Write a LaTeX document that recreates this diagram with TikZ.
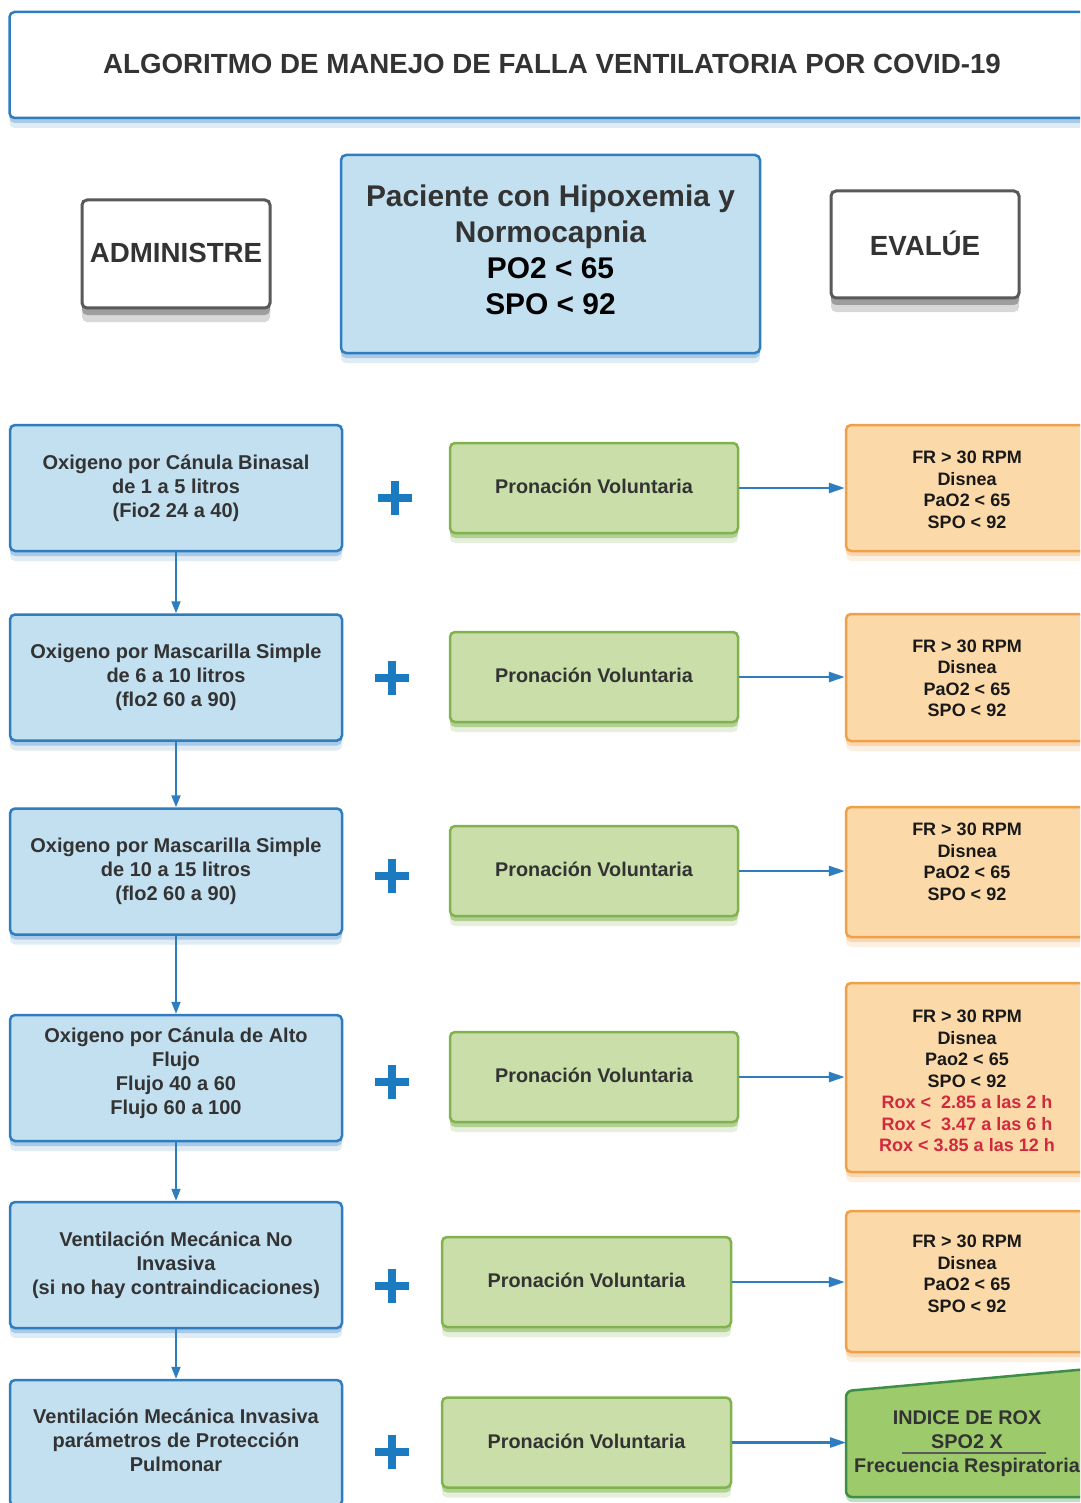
\documentclass[tikz,border=0pt]{standalone}
\usepackage{fontspec}
\setmainfont{Liberation Sans}
\usetikzlibrary{arrows.meta,shadows}
\definecolor{lblue}{HTML}{C3E0F1}
\definecolor{bblue}{HTML}{2E7DC0}
\definecolor{lgreen}{HTML}{C9DEA9}
\definecolor{bgreen}{HTML}{80B34D}
\definecolor{lorange}{HTML}{FBD9A8}
\definecolor{borange}{HTML}{F0A048}
\definecolor{rgreen}{HTML}{9DCB6B}
\definecolor{rgreenb}{HTML}{3E8E45}
\definecolor{txt}{HTML}{333333}
\definecolor{rred}{HTML}{CF2A3E}
\definecolor{plusblue}{HTML}{1B7BC0}
\begin{document}
\begin{tikzpicture}[x=1pt,y=-1pt,
  box/.style={draw, rounded corners=5pt, line width=2.5pt, inner sep=0pt, align=center},
  shad/.style={drop shadow={shadow xshift=0pt, shadow yshift=-10pt, opacity=0.15, fill=#1},
               drop shadow={shadow xshift=0pt, shadow yshift=-5pt, opacity=0.3, fill=#1}},
  titlebox/.style={box, fill=white, draw=bblue, text=txt,
    font=\fontsize{27.7}{33}\selectfont\bfseries, shad=bblue},
  graybox/.style={box, fill=white, draw=gray!70!black, line width=3pt, text=txt,
    minimum width=188pt, minimum height=108pt,
    font=\fontsize{27.7}{33}\selectfont\bfseries,
    drop shadow={shadow xshift=0pt, shadow yshift=-14pt, opacity=0.25, fill=gray!80!black},
    drop shadow={shadow xshift=0pt, shadow yshift=-7pt, opacity=0.5, fill=gray!80!black}},
  pacbox/.style={box, fill=lblue, draw=bblue, minimum width=419pt, minimum height=198pt, shad=bblue},
  pactext/.style={align=center, text=txt, font=\fontsize{29.9}{36}\selectfont\bfseries},
  lbox/.style={box, fill=lblue, draw=bblue, text=txt,
    minimum width=332pt, minimum height=126pt,
    font=\fontsize{20}{24}\selectfont\bfseries, shad=bblue},
  ltext/.style={align=center, text=txt, font=\fontsize{20}{24}\selectfont\bfseries},
  gbox/.style={box, fill=lgreen, draw=bgreen, text=txt,
    minimum width=288pt, minimum height=90pt,
    font=\fontsize{19.8}{24}\selectfont\bfseries,
    drop shadow={shadow xshift=0pt, shadow yshift=-10pt, opacity=0.2, fill=bgreen},
    drop shadow={shadow xshift=0pt, shadow yshift=-5pt, opacity=0.5, fill=bgreen}},
  obox/.style={box, fill=lorange, draw=borange, minimum width=242pt, shad=borange},
  otext/.style={align=center, text=black!90, font=\fontsize{18}{21.5}\selectfont\bfseries},
  hconn/.style={draw=bblue, line width=2.5pt, -{Triangle[length=16pt,width=10pt]}},
  vconn/.style={draw=bblue, line width=1.8pt, -{Triangle[length=12pt,width=9pt]}},
  plusbar/.style={draw=plusblue, line width=8.5pt}
]
\path[use as bounding box, clip] (0,0) rectangle (1080,1503);
\fill[white] (0,0) rectangle (1080,1503);

% header
\node[titlebox, minimum width=1085pt, minimum height=106pt] (title) at (552,65)
  {\raisebox{2pt}{ALGORITMO DE MANEJO DE FALLA VENTILATORIA POR COVID-19}};
\node[graybox] (admin) at (176,254) {\raisebox{2pt}{ADMINISTRE}};
\node[pacbox] (pac) at (550.5,254) {};
\node[pactext] (pact) at (550.5,250) {Paciente con Hipoxemia y\\Normocapnia\\\textcolor{black}{PO2 < 65}\\\textcolor{black}{SPO < 92}};
\node[graybox, minimum height=107pt] (eval) at (925,244.5) {\raisebox{3pt}{EVALÚE}};

% left column
\node[lbox] (l1) at (176,488) {Oxigeno por Cánula Binasal\\de 1 a 5 litros\\(Fio2 24 a 40)};
\node[lbox] (l2) at (176,677.5) {Oxigeno por Mascarilla Simple\\de 6 a 10 litros\\(flo2 60 a 90)};
\node[lbox] (l3) at (176,871.5) {Oxigeno por Mascarilla Simple\\de 10 a 15 litros\\(flo2 60 a 90)};
\node[lbox] (l4) at (176,1078) {};
\node[ltext] (l4t) at (176,1073) {Oxigeno por Cánula de Alto\\Flujo\\Flujo 40 a 60\\Flujo 60 a 100};
\node[lbox] (l5) at (176,1265) {Ventilación Mecánica No\\Invasiva\\(si no hay contraindicaciones)};
\node[lbox] (l6) at (176,1443) {};
\node[ltext] (l6t) at (176,1440) {Ventilación Mecánica Invasiva\\parámetros de Protección\\Pulmonar};

% green column
\node[gbox] (g1) at (594,488) {\raisebox{3pt}{Pronación Voluntaria}};
\node[gbox] (g2) at (594,677) {\raisebox{3pt}{Pronación Voluntaria}};
\node[gbox] (g3) at (594,871) {\raisebox{3pt}{Pronación Voluntaria}};
\node[gbox] (g4) at (594,1077) {\raisebox{3pt}{Pronación Voluntaria}};
\node[gbox, minimum width=289pt] (g5) at (586.5,1282) {\raisebox{3pt}{Pronación Voluntaria}};
\node[gbox, minimum width=289pt] (g6) at (586.5,1442.5) {\raisebox{3pt}{Pronación Voluntaria}};

% orange column
\node[obox, minimum height=126pt] (o1) at (967,488) {};
\node[otext] (o1t) at (967,490) {FR > 30 RPM\\Disnea\\PaO2 < 65\\SPO < 92};
\node[obox, minimum height=127pt] (o2) at (967,677.5) {};
\node[otext] (o2t) at (967,678.5) {FR > 30 RPM\\Disnea\\PaO2 < 65\\SPO < 92};
\node[obox, minimum height=130pt] (o3) at (967,872) {};
\node[otext] (o3t) at (967,862) {FR > 30 RPM\\Disnea\\PaO2 < 65\\SPO < 92};
\node[obox, minimum height=189pt] (o4) at (967,1077.5) {};
\node[otext] (o4t) at (967,1081) {FR > 30 RPM\\Disnea\\Pao2 < 65\\SPO < 92\\
  \textcolor{rred}{Rox <\ \ 2.85 a las 2 h}\\\textcolor{rred}{Rox <\ \ 3.47 a las 6 h}\\\textcolor{rred}{Rox < 3.85 a las 12 h}};
\node[obox, minimum height=141pt] (o5) at (967,1281.5) {};
\node[otext] (o5t) at (967,1274) {FR > 30 RPM\\Disnea\\PaO2 < 65\\SPO < 92};

% ROX box
\filldraw[fill=rgreen, draw=rgreenb, line width=2.5pt, rounded corners=6pt,
  drop shadow={shadow xshift=0pt, shadow yshift=-5pt, opacity=0.3, fill=rgreenb}]
  (1110,1367) -- (846,1391) -- (846,1497) -- (1110,1497);
\coordinate (roxw) at (846,1443);
\node[align=center, text=txt, font=\fontsize{19.8}{24}\selectfont\bfseries] (rox) at (967,1444)
  {INDICE DE ROX\\SPO2 X\\Frecuencia Respiratoria};
\draw[gray!70!black, line width=2pt] (902,1453) -- (1046,1453);

% plus signs
\foreach \px/\py in {395/498, 392/678, 392/876, 392/1082, 392/1286, 392/1452}{
  \draw[plusbar] (\px-17,\py) -- (\px+17,\py);
  \draw[plusbar] (\px,\py-17) -- (\px,\py+17);
}

% vertical connectors
\draw[vconn] (l1.south) -- (l2.north);
\draw[vconn] (l2.south) -- (l3.north);
\draw[vconn] (l3.south) -- (l4.north);
\draw[vconn] (l4.south) -- (l5.north);
\draw[vconn] (l5.south) -- (l6.north);

% horizontal connectors
\draw[hconn] (g1.east) -- (g1.east -| o1.west);
\draw[hconn] (g2.east) -- (g2.east -| o2.west);
\draw[hconn] (g3.east) -- (g3.east -| o3.west);
\draw[hconn] (g4.east) -- (g4.east -| o4.west);
\draw[hconn] (g5.east) -- (g5.east -| o5.west);
\draw[hconn] (g6.east) -- (g6.east -| roxw);
\end{tikzpicture}
\end{document}
